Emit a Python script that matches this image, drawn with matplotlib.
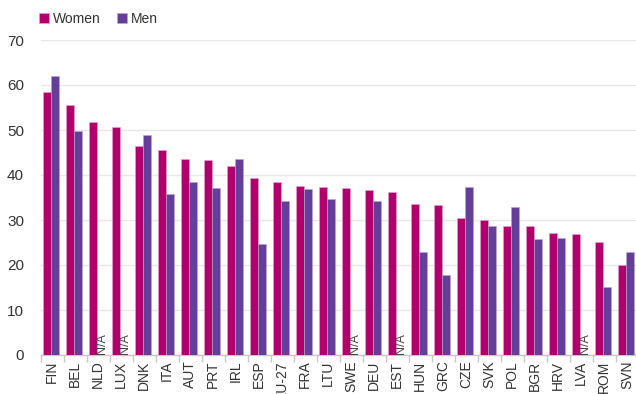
import matplotlib.pyplot as plt
import numpy as np

plt.rcParams['font.family'] = ['Liberation Sans', 'DejaVu Sans']

countries = ['FIN', 'BEL', 'NLD', 'LUX', 'DNK', 'ITA', 'AUT', 'PRT', 'IRL', 'ESP',
             'EU-27', 'FRA', 'LTU', 'SWE', 'DEU', 'EST', 'HUN', 'GRC', 'CZE', 'SVK',
             'POL', 'BGR', 'HRV', 'LVA', 'ROM', 'SVN']
women = [58.5, 55.6, 51.7, 50.7, 46.5, 45.6, 43.6, 43.3, 42.1, 39.3,
         38.4, 37.5, 37.3, 37.2, 36.6, 36.2, 33.6, 33.4, 30.4, 30.1,
         28.7, 28.7, 27.1, 27.0, 25.1, 20.0]
# None = no data for men
men = [62.1, 49.8, None, None, 49.0, 35.8, 38.4, 37.1, 43.6, 24.7,
       34.2, 36.9, 34.6, None, 34.2, None, 23.0, 17.8, 37.4, 28.7,
       33.0, 25.7, 25.9, None, 15.1, 23.0]

c_women = '#B1006E'
c_men = '#653E99'
w = 0.35

fig = plt.figure(figsize=(6.36, 3.94), dpi=100)
# axes run slightly past the right edge of the canvas
ax = fig.add_axes([40.7 / 636, 1 - 355 / 394, 598 / 636, 315 / 394])

x = np.arange(len(countries))
ax.bar(x - w / 2 - 0.05, women, w, color=c_women, edgecolor='#e9a6cc',
       linewidth=0.4, label='Women', zorder=3)
men_x = [xi for xi, m in zip(x, men) if m is not None]
men_v = [m for m in men if m is not None]
ax.bar(np.array(men_x) + w / 2 - 0.05, men_v, w, color=c_men, edgecolor='#b9a6d6',
       linewidth=0.4, label='Men', zorder=3)

for xi, m in zip(x, men):
    if m is None:
        ax.text(xi + w / 2 - 0.02, 0.3, 'N/A', rotation=90, ha='center', va='bottom',
                fontsize=9, color='#444444', zorder=4)

ax.set_xlim(-0.5, len(countries) - 0.5)
ax.set_ylim(0, 70)
ax.set_yticks(range(0, 71, 10))
ax.yaxis.grid(True, color='#e8e8e8', linewidth=1, zorder=0)
ax.set_axisbelow(True)

ax.set_xticks(x)
ax.set_xticklabels(countries, rotation=90, fontsize=10, color='#333333')
ax.set_xticks(np.arange(-0.5, len(countries), 1), minor=True)
ax.tick_params(axis='x', which='major', length=0, pad=4)
ax.tick_params(axis='x', which='minor', length=5, color='#c8c8c8', width=1)
ax.tick_params(axis='y', length=0, labelsize=11, labelcolor='#333333', pad=12)

for side in ['top', 'right', 'left']:
    ax.spines[side].set_visible(False)
ax.spines['bottom'].set_color('#c8c8c8')
ax.spines['bottom'].set_linewidth(1)

ax.legend(loc='lower left', bbox_to_anchor=(-0.012, 1.028), ncol=2, frameon=False,
          fontsize=10, handlelength=0.7, handleheight=0.7, handletextpad=0.3,
          columnspacing=1.2, borderaxespad=0, labelcolor='#333333')

fig.savefig('out.png', dpi=100)
